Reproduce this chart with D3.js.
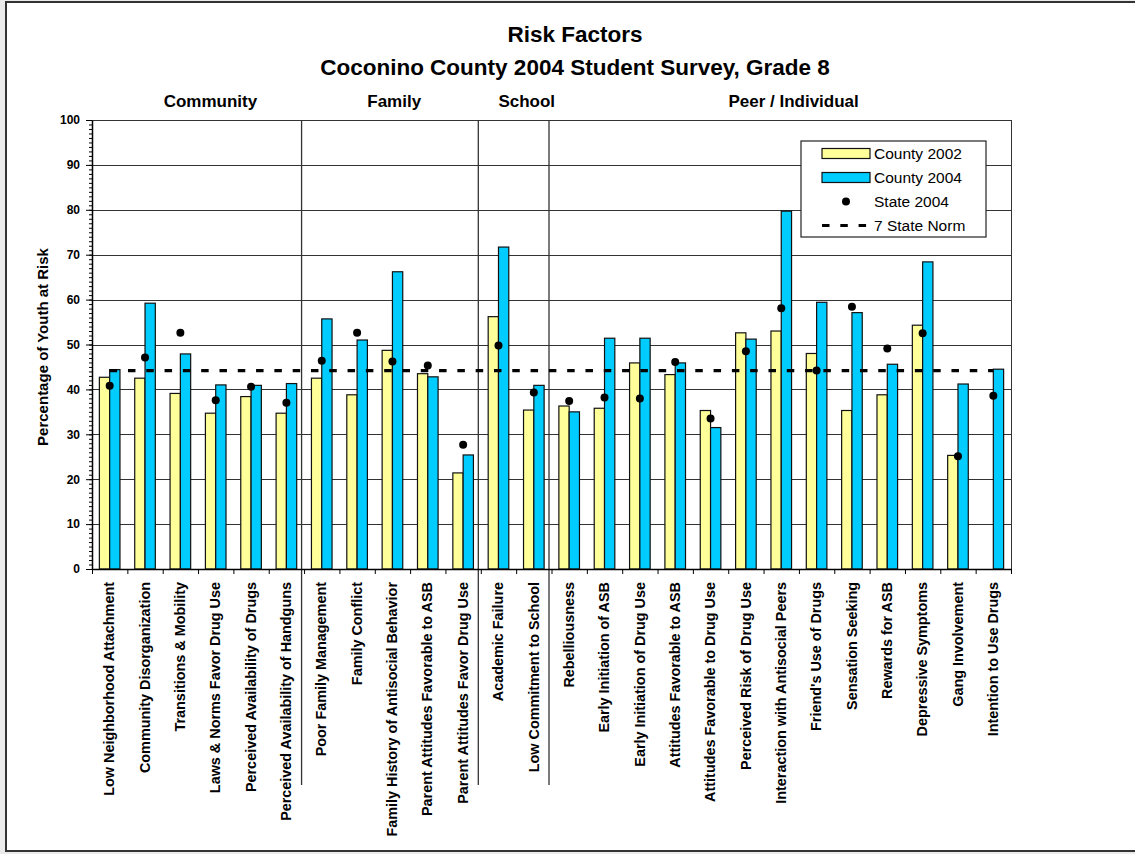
<!DOCTYPE html>
<html>
<head>
<meta charset="utf-8">
<script src="https://cdn.jsdelivr.net/npm/d3@7"></script>
<style>
  body { margin: 0; background: #ebebeb; }
  text { font-family: "Liberation Sans", Arial, sans-serif; }
</style>
</head>
<body>
<div class="chart-container"></div>
<script>
/********** the Data **********/
const categories = [
  "Low Neighborhood Attachment", "Community Disorganization", "Transitions & Mobility",
  "Laws & Norms Favor Drug Use", "Perceived Availability of Drugs", "Perceived Availability of Handguns",
  "Poor Family Management", "Family Conflict", "Family History of Antisocial Behavior",
  "Parent Attitudes Favorable to ASB", "Parent Attitudes Favor Drug Use",
  "Academic Failure", "Low Commitment to School",
  "Rebelliousness", "Early Initiation of ASB", "Early Initiation of Drug Use",
  "Attitudes Favorable to ASB", "Attitudes Favorable to Drug Use", "Perceived Risk of Drug Use",
  "Interaction with Antisocial Peers", "Friend's Use of Drugs", "Sensation Seeking",
  "Rewards for ASB", "Depressive Symptoms", "Gang Involvement", "Intention to Use Drugs"
];

const county2002 = [42.7, 42.5, 39.1, 34.7, 38.4, 34.7,
                    42.5, 38.8, 48.7, 43.5, 21.4,
                    56.2, 35.4,
                    36.3, 35.8, 45.9, 43.3, 35.3, 52.6, 53.0, 48.0, 35.3, 38.8, 54.3, 25.3, null];

const county2004 = [44.4, 59.2, 47.9, 41.0, 40.9, 41.3,
                    55.7, 51.0, 66.2, 42.8, 25.4,
                    71.7, 40.9,
                    35.0, 51.4, 51.4, 45.9, 31.5, 51.2, 79.7, 59.4, 57.1, 45.6, 68.4, 41.2, 44.5];

const state2004 = [40.8, 47.1, 52.6, 37.6, 40.6, 37.0,
                   46.4, 52.6, 46.2, 45.3, 27.7,
                   49.8, 39.3,
                   37.4, 38.2, 38.0, 46.1, 33.5, 48.5, 58.1, 44.2, 58.4, 49.1, 52.5, 25.1, 38.6];

const stateNorm = 44.2;

// domain groups: name, number of categories, where the header sits (in category units)
const groupNames = ["Community", "Family", "School", "Peer / Individual"];
const groupSizes = [6, 5, 2, 13];
const groupHeaderAt = [3.35, 8.55, 12.3, 19.85];

const yTicks = [0, 10, 20, 30, 40, 50, 60, 70, 80, 90, 100];

const legendItems = ["County 2002", "County 2004", "State 2004", "7 State Norm"];

/********** drawChart **********/
function drawChart() {
  let width = 1135;
  let height = 854;
  let plot = {left: 92, right: 1011, top: 120, bottom: 569};

  let svg = d3.select(".chart-container")
    .append("svg")
      .attr("width", width)
      .attr("height", height)
      .style("display", "block");

  // frame
  svg.append("rect")
    .attr("x", 6).attr("y", 2)
    .attr("width", 1150).attr("height", 849)
    .attr("fill", "white")
    .attr("stroke", "#333")
    .attr("stroke-width", 2);

  /***** scales *****/
  let xScale = d3.scaleBand()
    .domain(categories)
    .range([plot.left, plot.right])
    .padding(0);
  let xIndex = d3.scaleLinear()
    .domain([0, categories.length])
    .range([plot.left, plot.right]);
  let yScale = d3.scaleLinear()
    .domain([0, 100])
    .range([plot.bottom, plot.top]);

  let center = d => xScale(d) + xScale.bandwidth() / 2;
  let barW = 10.3;

  /***** titles *****/
  svg.append("text")
    .attr("x", 575).attr("y", 42)
    .attr("text-anchor", "middle")
    .style("font-size", "22.5px").style("font-weight", "bold")
    .text("Risk Factors");
  svg.append("text")
    .attr("x", 575).attr("y", 75)
    .attr("text-anchor", "middle")
    .style("font-size", "22.5px").style("font-weight", "bold")
    .text("Coconino County 2004 Student Survey, Grade 8");

  // group headers
  svg.selectAll(".group-head")
    .data(groupNames)
    .enter().append("text")
      .attr("class", "group-head")
      .attr("x", (d, i) => xIndex(groupHeaderAt[i]))
      .attr("y", 107)
      .attr("text-anchor", "middle")
      .style("font-size", "17px").style("font-weight", "bold")
      .text(d => d);

  /***** gridlines *****/
  svg.append("g")
    .attr("class", "grid")
    .attr("transform", `translate(${plot.left}, 0)`)
    .call(d3.axisLeft(yScale).tickValues(yTicks.slice(1))
      .tickSize(-(plot.right - plot.left)).tickFormat(""))
    .call(g => g.select(".domain").remove())
    .call(g => g.selectAll("line").attr("stroke", "#333").attr("shape-rendering", "crispEdges"));

  // plot right border
  svg.append("line")
    .attr("x1", plot.right).attr("x2", plot.right)
    .attr("y1", plot.top).attr("y2", plot.bottom)
    .attr("stroke", "#333").attr("shape-rendering", "crispEdges");

  // group dividers (run down through the labels)
  let dividerIdx = d3.cumsum(groupSizes).slice(0, -1);
  svg.selectAll(".divider")
    .data(dividerIdx)
    .enter().append("line")
      .attr("class", "divider")
      .attr("x1", d => xIndex(d) - 2.5).attr("x2", d => xIndex(d) - 2.5)
      .attr("y1", plot.top).attr("y2", 785)
      .attr("stroke", "#333").attr("stroke-width", 1.3);

  /***** bars *****/
  svg.selectAll(".bar2002")
    .data(categories.map((c, i) => ({cat: c, v: county2002[i]})).filter(d => d.v != null))
    .enter().append("rect")
      .attr("class", "bar2002")
      .attr("x", d => center(d.cat) - barW)
      .attr("width", barW)
      .attr("y", d => yScale(d.v))
      .attr("height", d => yScale(0) - yScale(d.v))
      .attr("fill", "#ffff99")
      .attr("stroke", "#111").attr("stroke-width", 1.2);

  svg.selectAll(".bar2004")
    .data(categories.map((c, i) => ({cat: c, v: county2004[i]})))
    .enter().append("rect")
      .attr("class", "bar2004")
      .attr("x", d => center(d.cat))
      .attr("width", barW)
      .attr("y", d => yScale(d.v))
      .attr("height", d => yScale(0) - yScale(d.v))
      .attr("fill", "#00ccff")
      .attr("stroke", "#111").attr("stroke-width", 1.2);

  // 7 state norm
  svg.append("line")
    .attr("x1", center(categories[0]))
    .attr("x2", center(categories[categories.length - 1]))
    .attr("y1", yScale(stateNorm)).attr("y2", yScale(stateNorm))
    .attr("stroke", "black").attr("stroke-width", 3.2)
    .attr("stroke-dasharray", "7.5,10.8");

  // state dots
  svg.selectAll(".state-dot")
    .data(categories.map((c, i) => ({cat: c, v: state2004[i]})))
    .enter().append("circle")
      .attr("class", "state-dot")
      .attr("cx", d => center(d.cat))
      .attr("cy", d => yScale(d.v))
      .attr("r", 4)
      .attr("fill", "black");

  /***** axes *****/
  // minor ticks
  svg.append("g")
    .attr("transform", `translate(${plot.left}, 0)`)
    .call(d3.axisLeft(yScale).tickValues(d3.range(0, 101, 1)).tickSize(3).tickFormat(""))
    .call(g => g.select(".domain").remove())
    .call(g => g.selectAll("line").attr("stroke", "black"));

  let yAxis = svg.append("g")
    .attr("class", "y-axis")
    .attr("transform", `translate(${plot.left}, 0)`)
    .call(d3.axisLeft(yScale).tickValues(yTicks).tickSize(6).tickSizeOuter(0).tickPadding(6));
  yAxis.select(".domain").attr("stroke", "black").attr("stroke-width", 1.5);
  yAxis.selectAll("text")
    .style("font-size", "12px").style("font-weight", "bold")
    .style("font-family", "'Liberation Sans', Arial, sans-serif")
    .attr("fill", "black");

  // x axis: baseline + ticks at category boundaries
  svg.append("g")
    .attr("class", "x-axis")
    .attr("transform", `translate(0, ${plot.bottom})`)
    .call(d3.axisBottom(xIndex).tickValues(d3.range(0, categories.length + 1))
      .tickSize(5).tickSizeOuter(0).tickFormat(""))
    .call(g => g.select(".domain").attr("stroke", "black").attr("stroke-width", 1.5));

  // x labels
  svg.selectAll(".x-label")
    .data(categories)
    .enter().append("text")
      .attr("class", "x-label")
      .attr("transform", d => `translate(${center(d) - 0.5}, 582) rotate(-90)`)
      .attr("dy", "0.36em")
      .attr("text-anchor", "end")
      .style("font-size", "14.4px").style("font-weight", "bold")
      .text(d => d);

  // y axis title
  svg.append("text")
    .attr("transform", `translate(43, 347) rotate(-90)`)
    .attr("dy", "0.36em")
    .attr("text-anchor", "middle")
    .style("font-size", "15px").style("font-weight", "bold")
    .text("Percentage of Youth at Risk");

  /***** legend *****/
  let lg = svg.append("g").attr("class", "legend");
  lg.append("rect")
    .attr("x", 801).attr("y", 141)
    .attr("width", 185).attr("height", 96)
    .attr("fill", "white").attr("stroke", "#222").attr("stroke-width", 1.2);

  let rowY = i => 153.5 + i * 24;
  lg.append("rect")
    .attr("x", 822).attr("y", rowY(0) - 5).attr("width", 48).attr("height", 10)
    .attr("fill", "#ffff99").attr("stroke", "#111").attr("stroke-width", 1.2);
  lg.append("rect")
    .attr("x", 822).attr("y", rowY(1) - 5).attr("width", 48).attr("height", 10)
    .attr("fill", "#00ccff").attr("stroke", "#111").attr("stroke-width", 1.2);
  lg.append("circle")
    .attr("cx", 846).attr("cy", rowY(2)).attr("r", 4).attr("fill", "black");
  lg.append("line")
    .attr("x1", 822).attr("x2", 872).attr("y1", rowY(3)).attr("y2", rowY(3))
    .attr("stroke", "black").attr("stroke-width", 3.2)
    .attr("stroke-dasharray", "7.5,10.8");

  lg.selectAll(".legend-text")
    .data(legendItems)
    .enter().append("text")
      .attr("class", "legend-text")
      .attr("x", 874)
      .attr("y", (d, i) => rowY(i))
      .attr("dy", "0.36em")
      .style("font-size", "15.5px")
      .text(d => d);
}

drawChart();
</script>
</body>
</html>
